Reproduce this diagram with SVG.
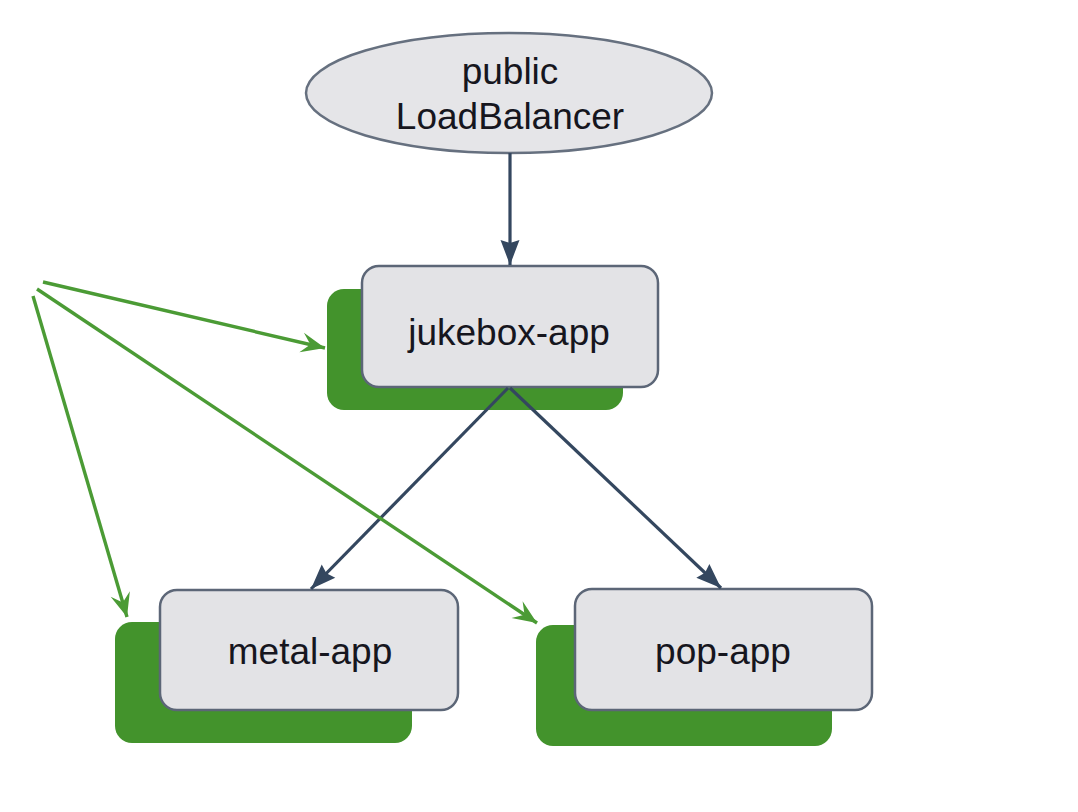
<svg xmlns="http://www.w3.org/2000/svg" width="1078" height="812" viewBox="0 0 1078 812">
<style>
.shadow{fill:#43932c;}
.box{fill:#e3e3e6;stroke:#5c6677;stroke-width:2.5;}
.ell{fill:#e5e5e8;stroke:#66707f;stroke-width:2.5;}
.lbl{font-family:"Liberation Sans",Arial,sans-serif;font-size:37px;fill:#16161e;text-anchor:middle;}
.nav{stroke:#34475f;stroke-width:3.2;fill:none;}
.grn{stroke:#4b9b35;stroke-width:3.4;fill:none;}
</style>
<defs>
<marker id="ah" markerUnits="userSpaceOnUse" markerWidth="30" markerHeight="24" viewBox="-26 -12 30 24" refX="0" refY="0" orient="auto">
<path d="M0,0 L-25,-9.5 L-22,0 L-25,9.5 Z" fill="#34475f"/>
</marker>
<marker id="ag" markerUnits="userSpaceOnUse" markerWidth="30" markerHeight="24" viewBox="-26 -12 30 24" refX="0" refY="0" orient="auto">
<path d="M0,0 L-24,-10 L-15,0 L-24,10 Z" fill="#4b9b35"/>
</marker>
</defs>
<rect width="1078" height="812" fill="#ffffff"/>
<g id="loadbalancer">
<ellipse class="ell" cx="509" cy="93" rx="203" ry="60"/>
<text class="lbl" x="510" y="84">public</text>
<text class="lbl" x="510" y="129">LoadBalancer</text>
</g>
<g id="jukebox-app">
<rect class="shadow" x="327" y="289" width="296" height="121" rx="17"/>
<rect class="box" x="362" y="266" width="296" height="121" rx="17"/>
<text class="lbl" x="509" y="345">jukebox-app</text>
</g>
<g id="metal-app">
<rect class="shadow" x="115" y="622" width="297" height="121" rx="17"/>
<rect class="box" x="160" y="590" width="298" height="120" rx="17"/>
<text class="lbl" x="310" y="664">metal-app</text>
</g>
<g id="pop-app">
<rect class="shadow" x="536" y="625" width="296" height="121" rx="17"/>
<rect class="box" x="575" y="589" width="297" height="121" rx="17"/>
<text class="lbl" x="723" y="664">pop-app</text>
</g>
<g id="connectors">
<path class="nav" d="M510,153 L510,265" marker-end="url(#ah)"/>
<path class="nav" d="M508,388 L311,589" marker-end="url(#ah)"/>
<path class="nav" d="M510,388 L721,588" marker-end="url(#ah)"/>
<path class="grn" d="M43,282 L325,348" marker-end="url(#ag)"/>
<path class="grn" d="M37,289 L537,623" marker-end="url(#ag)"/>
<path class="grn" d="M33,296 L127,617" marker-end="url(#ag)"/>
</g>
</svg>
